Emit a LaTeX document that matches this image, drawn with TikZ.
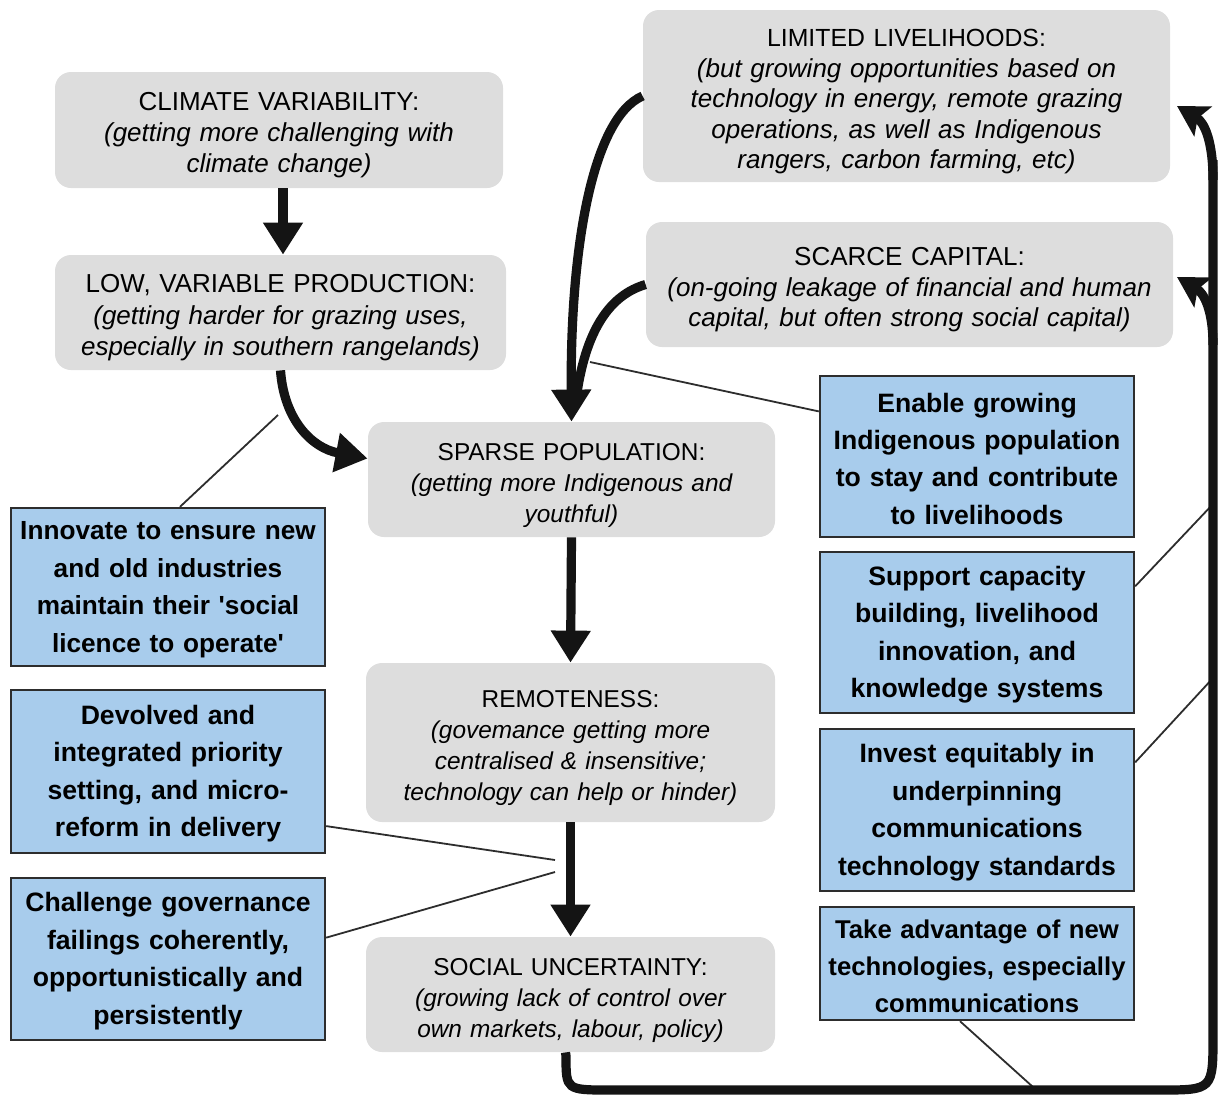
\documentclass[tikz,border=0pt]{standalone}
\usepackage{fontspec}
\setmainfont{Liberation Sans}[Ligatures=TeXOff]
\usetikzlibrary{arrows.meta,calc}
\definecolor{boxgrey}{RGB}{221,221,221}
\definecolor{boxblue}{RGB}{168,204,236}
\definecolor{edgecol}{RGB}{45,45,45}
\begin{document}
\begin{tikzpicture}[x=0.5pt,y=-0.5pt,
  greybox/.style={fill=boxgrey, rounded corners=8pt, inner sep=0pt, align=center,
    font=\fontsize{13}{15.6}\selectfont, execute at begin node={\rule{0pt}{14.3pt}}},
  midbox/.style={greybox, font=\fontsize{12.2}{15.5}\selectfont},
  bluebox/.style={fill=boxblue, draw=edgecol, line width=1.2pt, inner sep=0pt, align=center,
    font=\fontsize{13.3}{18.7}\selectfont\bfseries, execute at begin node={\rule{0pt}{11.8pt}}},
  bigarrow/.style={line width=4.6pt, draw=black!92, -{Triangle[width=19pt,length=16pt]}},
  sidearrow/.style={line width=4.6pt, draw=black!92, -{Stealth[width=17pt,length=15pt,inset=3pt]}},
  bigline/.style={line width=4.6pt, draw=black!92},
  thinline/.style={line width=0.9pt, draw=edgecol}]
\useasboundingbox (0,0) rectangle (1218,1099);

% grey boxes
\node[greybox, text width=224pt, minimum height=58pt] (clim) at (279,130)
  {CLIMATE VARIABILITY:\\ \itshape (getting more challenging with\\ climate change)};
\node[greybox, text width=225.5pt, minimum height=57.5pt] (low) at (280.5,312.5)
  {LOW, VARIABLE PRODUCTION:\\ \itshape (getting harder for grazing uses,\\ especially in southern rangelands)};
\node[greybox, text width=263.5pt, minimum height=86pt, font=\fontsize{13}{15.3}\selectfont] (lim) at (906.5,96)
  {{\fontsize{12.4}{15.3}\selectfont LIMITED LIVELIHOODS:}\\ \itshape (but growing opportunities based on\\ technology in energy, remote grazing\\ operations, as well as Indigenous\\ rangers, carbon farming, etc)};
\node[greybox, text width=263.5pt, minimum height=62.5pt, font=\fontsize{13}{15.3}\selectfont] (cap) at (909.5,284.5)
  {SCARCE CAPITAL:\\ \itshape (on-going leakage of financial and human\\ capital, but often strong social capital)};
\node[midbox, text width=203.5pt, minimum height=57.5pt] (sparse) at (571.5,479.5)
  {SPARSE POPULATION:\\ \itshape (getting more Indigenous and\\ youthful)};
\node[midbox, text width=204.5pt, minimum height=79.5pt] (remote) at (570.5,742.5)
  {REMOTENESS:\\ \itshape (govemance getting more\\ centralised \& insensitive;\\ technology can help or hinder)};
\node[midbox, text width=204.5pt, minimum height=57.5pt] (social) at (570.5,994.5)
  {SOCIAL UNCERTAINTY:\\ \itshape (growing lack of control over\\ own markets, labour, policy)};

% blue boxes
\node[bluebox, text width=157pt, minimum height=79pt, font=\fontsize{13.1}{18.7}\selectfont\bfseries] (innov) at (168,587)
  {Innovate to ensure new\\ and old industries\\ maintain their 'social\\ licence to operate'};
\node[bluebox, text width=157pt, minimum height=81.5pt] (devol) at (168,771.5)
  {Devolved and\\ integrated priority\\ setting, and micro-\\ reform in delivery};
\node[bluebox, text width=157pt, minimum height=81pt] (chall) at (168,959)
  {Challenge governance\\ failings coherently,\\ opportunistically and\\ persistently};
\node[bluebox, text width=157pt, minimum height=80.5pt] (enable) at (977,456.5)
  {Enable growing\\ Indigenous population\\ to stay and contribute\\ to livelihoods};
\node[bluebox, text width=157pt, minimum height=80.5pt] (support) at (977,632.5)
  {Support capacity\\ building, livelihood\\ innovation, and\\ knowledge systems};
\node[bluebox, text width=157pt, minimum height=81pt] (invest) at (977,810)
  {Invest equitably in\\ underpinning\\ communications\\ technology standards};
\node[bluebox, text width=157pt, minimum height=56.5pt, font=\fontsize{12.85}{18.5}\selectfont\bfseries] (take) at (977,963.5)
  {Take advantage of new\\ technologies, especially\\ communications};

% free ends
\coordinate (innovend) at (278,415);
\coordinate (enableend) at (590,362);
\coordinate (supportend) at (1213,504);
\coordinate (investend) at (1213,678);
\coordinate (takeend) at (1033,1087);
\coordinate (devolend) at (555,860);
\coordinate (challend) at (555,872);
\coordinate (limin) at (1177,106);
\coordinate (capin) at (1177,277);

% thin connectors
\draw[thinline] ([xshift=6pt]innov.north) -- (innovend);
\draw[thinline] ($(enable.north west)!0.224!(enable.south west)$) -- (enableend);
\draw[thinline] ($(support.north east)!0.217!(support.south east)$) -- (supportend);
\draw[thinline] ($(invest.north east)!0.21!(invest.south east)$) -- (investend);
\draw[thinline] ([xshift=-8.5pt]take.south) -- (takeend);
\draw[thinline] ($(devol.north east)!0.83!(devol.south east)$) -- (devolend);
\draw[thinline] ($(chall.north east)!0.37!(chall.south east)$) -- (challend);

% main arrows
\draw[bigarrow] ([xshift=2pt]clim.south) -- ([xshift=2pt]clim.south |- low.north);
\draw[bigarrow] (low.south) .. controls (284,420) and (312,448) .. ([yshift=10.5pt]sparse.west);
\draw[bigline] (cap.west) .. controls (610,295) and (585,330) .. (576,400);
\draw[bigarrow] (lim.west) .. controls (592,118) and (570,250) .. (sparse.north);
\draw[bigarrow] (sparse.south) -- (remote.north);
\draw[bigarrow] (remote.south) -- (social.north);

% feedback loop
\draw[bigline] ([xshift=-2.5pt]social.south) -- (566,1056) .. controls (566,1090) .. (610,1090)
  -- (1160,1090) .. controls (1213,1090) .. (1213,1035) -- (1213,160);
\draw[sidearrow] (1213,180) .. controls (1213,140) and (1204,122) .. (limin);
\draw[sidearrow] (1213,345) .. controls (1213,310) and (1204,293) .. (capin);
\end{tikzpicture}
\end{document}
